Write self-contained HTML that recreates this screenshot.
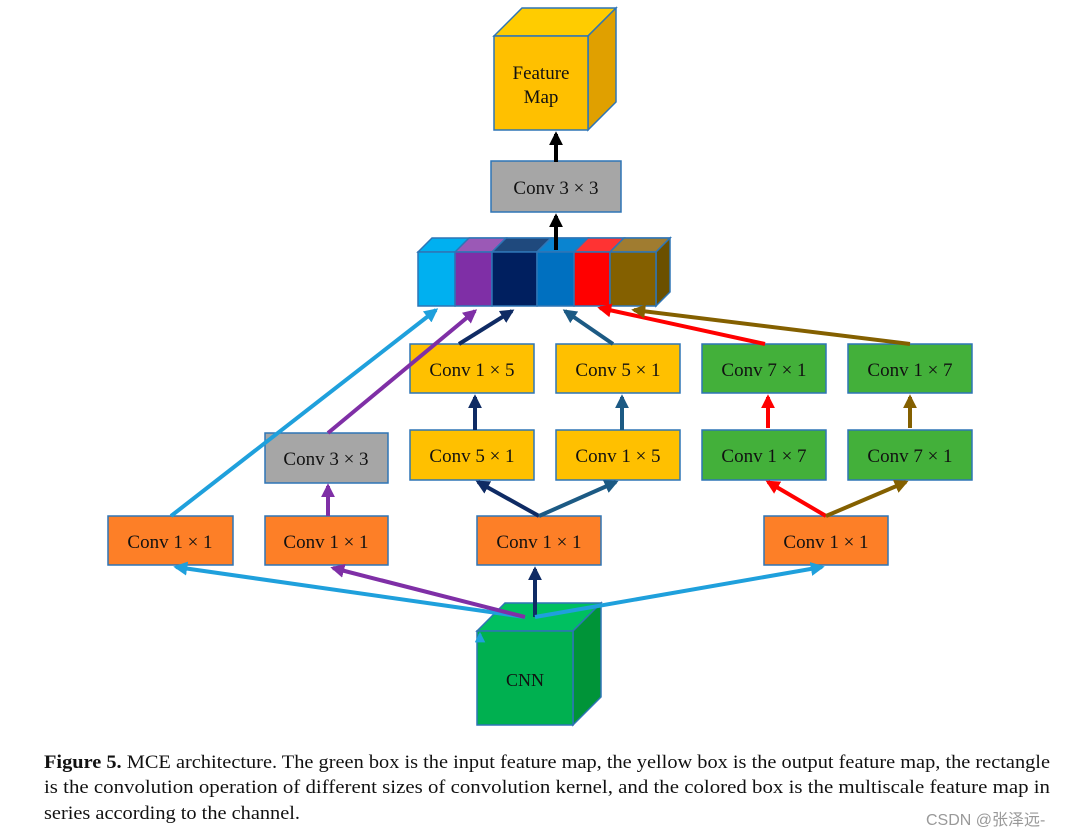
<!DOCTYPE html>
<html><head><meta charset="utf-8"><style>
html,body{margin:0;padding:0;background:#fff;}
svg{display:block;}
text{font-family:"Liberation Serif",serif;}
</style></head><body>
<svg width="1077" height="837" viewBox="0 0 1077 837" xmlns="http://www.w3.org/2000/svg">
<defs>
<marker id="ah" viewBox="0 0 10 10" refX="8" refY="5" markerWidth="3.5" markerHeight="3.5" orient="auto" markerUnits="strokeWidth"><path d="M0,0 L10,5 L0,10 z" fill="context-stroke"/></marker>
</defs>
<g stroke="#2e75b6" stroke-width="1.5">
<polygon points="494,36 522,8 616,8 588,36" fill="#ffcc00"/>
<polygon points="588,36 616,8 616,102 588,130" fill="#e0a000"/>
<rect x="494" y="36" width="94" height="94" fill="#ffc000"/>
<rect x="491" y="161" width="130" height="51" fill="#a6a6a6"/>
<polygon points="418,252 432,238 670,238 656,252" fill="#00b0f0"/>
<polygon points="455,252 469,238 506,238 492,252" fill="#9b59b6"/>
<polygon points="492,252 506,238 551,238 537,252" fill="#1f497d"/>
<polygon points="537,252 551,238 588,238 574,252" fill="#0a84d0"/>
<polygon points="574,252 588,238 624,238 610,252" fill="#ff3333"/>
<polygon points="610,252 624,238 670,238 656,252" fill="#a07c30"/>
<polygon points="656,252 670,238 670,292 656,306" fill="#6b5000"/>
<rect x="418" y="252" width="37" height="54" fill="#00b0f0"/>
<rect x="455" y="252" width="37" height="54" fill="#7f2fa6"/>
<rect x="492" y="252" width="45" height="54" fill="#001f5f"/>
<rect x="537" y="252" width="37" height="54" fill="#0070c0"/>
<rect x="574" y="252" width="36" height="54" fill="#ff0000"/>
<rect x="610" y="252" width="46" height="54" fill="#846000"/>
<rect x="410" y="344" width="124" height="49" fill="#ffc000"/>
<rect x="556" y="344" width="124" height="49" fill="#ffc000"/>
<rect x="702" y="344" width="124" height="49" fill="#43b03a"/>
<rect x="848" y="344" width="124" height="49" fill="#43b03a"/>
<rect x="265" y="433" width="123" height="50" fill="#a6a6a6"/>
<rect x="410" y="430" width="124" height="50" fill="#ffc000"/>
<rect x="556" y="430" width="124" height="50" fill="#ffc000"/>
<rect x="702" y="430" width="124" height="50" fill="#43b03a"/>
<rect x="848" y="430" width="124" height="50" fill="#43b03a"/>
<rect x="108" y="516" width="125" height="49" fill="#fd7f27"/>
<rect x="265" y="516" width="123" height="49" fill="#fd7f27"/>
<rect x="477" y="516" width="124" height="49" fill="#fd7f27"/>
<rect x="764" y="516" width="124" height="49" fill="#fd7f27"/>
<polygon points="477,631 505,603 601,603 573,631" fill="#00c060"/>
<polygon points="573,631 601,603 601,697 573,725" fill="#009438"/>
<rect x="477" y="631" width="96" height="94" fill="#00b050"/>
</g>
<g fill="none" stroke-width="4" marker-end="url(#ah)">
<line x1="556" y1="162" x2="556" y2="134" stroke="#000"/>
<line x1="556" y1="250" x2="556" y2="216" stroke="#000"/>
<line x1="171" y1="516" x2="436" y2="310" stroke="#1fa0dc"/>
<line x1="328" y1="433" x2="475" y2="311" stroke="#7f2fa6"/>
<line x1="459" y1="344" x2="512" y2="311" stroke="#0f2b64"/>
<line x1="613" y1="344" x2="565" y2="311" stroke="#1c5a84"/>
<line x1="765" y1="344" x2="600" y2="308" stroke="#ff0000"/>
<line x1="910" y1="344" x2="634" y2="310" stroke="#846000"/>
<line x1="475" y1="430" x2="475" y2="397" stroke="#0f2b64"/>
<line x1="622" y1="430" x2="622" y2="397" stroke="#1c5a84"/>
<line x1="768" y1="428" x2="768" y2="397" stroke="#ff0000"/>
<line x1="910" y1="428" x2="910" y2="397" stroke="#846000"/>
<line x1="539" y1="516" x2="478" y2="482" stroke="#0f2b64"/>
<line x1="539" y1="516" x2="616" y2="482" stroke="#1c5a84"/>
<line x1="826" y1="516" x2="768" y2="482" stroke="#ff0000"/>
<line x1="826" y1="516" x2="906" y2="482" stroke="#846000"/>
<line x1="328" y1="516" x2="328" y2="486" stroke="#7f2fa6"/>
<line x1="525" y1="617" x2="176" y2="567" stroke="#1fa0dc"/>
<line x1="525" y1="617" x2="333" y2="568" stroke="#7f2fa6"/>
<line x1="535" y1="617" x2="535" y2="569" stroke="#0f2b64"/>
<line x1="535" y1="617" x2="822" y2="567" stroke="#1fa0dc"/>
</g>
<line x1="480" y1="640" x2="480" y2="634" stroke="#1fa0dc" stroke-width="3" marker-end="url(#ah)"/>
<g font-size="19" fill="#111" text-anchor="middle">
<text x="541" y="79">Feature</text>
<text x="541" y="103">Map</text>
<text x="556" y="194">Conv 3 × 3</text>
<text x="472" y="376">Conv 1 × 5</text>
<text x="618" y="376">Conv 5 × 1</text>
<text x="764" y="376">Conv 7 × 1</text>
<text x="910" y="376">Conv 1 × 7</text>
<text x="326" y="465">Conv 3 × 3</text>
<text x="472" y="462">Conv 5 × 1</text>
<text x="618" y="462">Conv 1 × 5</text>
<text x="764" y="462">Conv 1 × 7</text>
<text x="910" y="462">Conv 7 × 1</text>
<text x="170" y="548">Conv 1 × 1</text>
<text x="326" y="548">Conv 1 × 1</text>
<text x="539" y="548">Conv 1 × 1</text>
<text x="826" y="548">Conv 1 × 1</text>
<text x="525" y="686" font-size="18">CNN</text>
</g>
<g font-size="19" fill="#111">
<text x="44" y="768" textLength="1006" lengthAdjust="spacingAndGlyphs"><tspan font-weight="bold">Figure 5.</tspan> MCE architecture. The green box is the input feature map, the yellow box is the output feature map, the rectangle</text>
<text x="44" y="793" textLength="1006" lengthAdjust="spacingAndGlyphs">is the convolution operation of different sizes of convolution kernel, and the colored box is the multiscale feature map in</text>
<text x="44" y="819" textLength="256" lengthAdjust="spacingAndGlyphs">series according to the channel.</text>
</g>
<text x="926" y="825" font-size="16" fill="#999" style="font-family:'Liberation Sans','Noto Sans CJK SC',sans-serif">CSDN @张泽远-</text>
</svg>
</body></html>
